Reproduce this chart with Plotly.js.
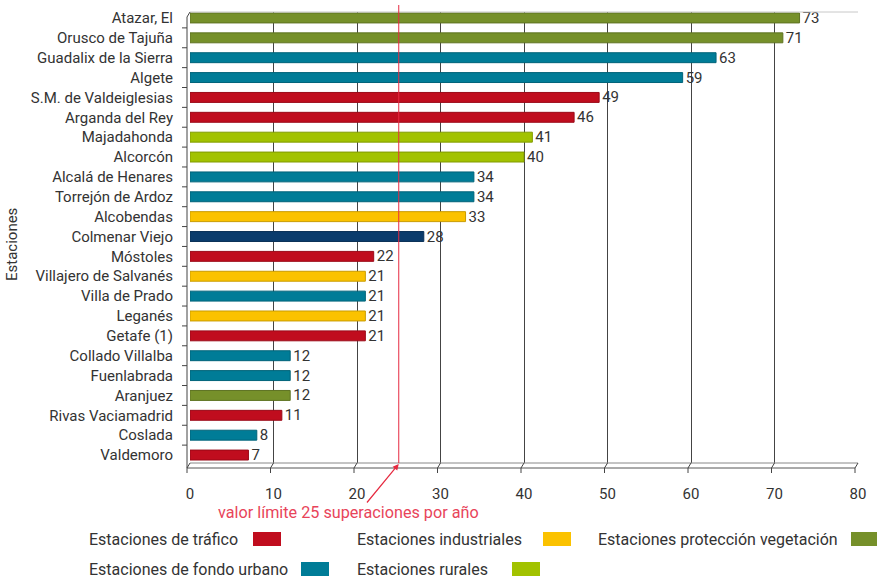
<!DOCTYPE html>
<html><head><meta charset="utf-8">
<script src="https://cdn.plot.ly/plotly-3.0.1.min.js"></script>
<style>html,body{margin:0;padding:0;background:#fff}</style>
</head><body><div id="chart" style="width:877px;height:580px"></div>
<script>
// ---- data ----
const stations = ["Atazar, El", "Orusco de Tajuña", "Guadalix de la Sierra", "Algete",
  "S.M. de Valdeiglesias", "Arganda del Rey", "Majadahonda", "Alcorcón",
  "Alcalá de Henares", "Torrejón de Ardoz", "Alcobendas", "Colmenar Viejo",
  "Móstoles", "Villajero de Salvanés", "Villa de Prado", "Leganés", "Getafe (1)",
  "Collado Villalba", "Fuenlabrada", "Aranjuez", "Rivas Vaciamadrid", "Coslada", "Valdemoro"];
const values = [73, 71, 63, 59, 49, 46, 41, 40, 34, 34, 33, 28, 22, 21, 21, 21, 21, 12, 12, 12, 11, 8, 7];
const stationTypes = ["veg", "veg", "urb", "urb", "traf", "traf", "rur", "rur", "urb", "urb", "ind", "otro",
  "traf", "ind", "urb", "ind", "traf", "urb", "urb", "veg", "traf", "urb", "traf"];
const typeKeys = ["traf", "ind", "veg", "urb", "rur"];
const typeLabels = ["Estaciones de tráfico", "Estaciones industriales", "Estaciones protección vegetación",
  "Estaciones de fondo urbano", "Estaciones rurales"];
const typeColors = {traf: "#c00d1e", ind: "#fbc200", veg: "#76902a", urb: "#007c97", rur: "#a2c200", otro: "#0b3c6c"};
const limitValue = 25;
const limitText = "valor límite 25 superaciones por año";
const xTicks = [0, 10, 20, 30, 40, 50, 60, 70, 80];

// ---- layout helpers (pixel -> paper) ----
const L = 190, R = 858, T = 12, B = 463;
const px = p => (p - L) / (R - L);
const py = p => (B - p) / (B - T);
const dx = 3 / (R - L), dy = 5 / (B - T);
const FONT = "Roboto, sans-serif";

const darker = c => {
  const n = parseInt(c.slice(1), 16);
  const f = v => Math.max(0, Math.round(v * 0.8));
  return "rgb(" + f(n >> 16) + "," + f((n >> 8) & 255) + "," + f(n & 255) + ")";
};

const colors = stationTypes.map(t => typeColors[t]);
const trace = {
  type: "bar", orientation: "h",
  y: stations, x: values,
  width: 0.5,
  marker: {color: colors, line: {color: colors.map(darker), width: 1}},
  text: values.map(String), textposition: "outside", cliponaxis: false, constraintext: "none",
  textfont: {family: FONT, size: 15, color: "#333"},
  hoverinfo: "x+y"
};

const shapes = [];
const annotations = [];
// floor / 3D frame
shapes.push({type: "line", xref: "paper", yref: "paper", x0: 0, x1: 1, y0: 1, y1: 1, line: {color: "#c8c8c8", width: 1}});
shapes.push({type: "line", xref: "paper", yref: "paper", x0: 0, x1: 1, y0: 0, y1: 0, line: {color: "#888", width: 1}});
shapes.push({type: "line", xref: "paper", yref: "paper", x0: -dx, x1: 1 - dx, y0: -dy, y1: -dy, line: {color: "#555", width: 1}});
shapes.push({type: "line", xref: "paper", yref: "paper", x0: -dx, x1: -dx, y0: -dy, y1: 1 - dy, line: {color: "#444", width: 1}});
shapes.push({type: "line", xref: "paper", yref: "paper", x0: -dx, x1: 0, y0: 1 - dy, y1: 1, line: {color: "#444", width: 1}});
xTicks.forEach(v => {
  const xp = v / 80;
  shapes.push({type: "line", xref: "paper", yref: "paper", x0: xp, x1: xp - dx, y0: 0, y1: -dy, line: {color: "#444", width: 1}});
  shapes.push({type: "line", xref: "paper", yref: "paper", x0: xp - dx, x1: xp - dx, y0: -dy, y1: -dy - 5 / (B - T), line: {color: "#444", width: 1}});
});
// y boundary ticks
for (let i = 0; i <= stations.length; i++) {
  const yp = py(T + (i + 0.3) * (B - T) / 22.7 + 5 * (1 - 0));
  shapes.push({type: "line", xref: "paper", yref: "y", x0: -dx - 5 / (R - L), x1: -dx, y0: i - 0.5, y1: i - 0.5,
    line: {color: "#444", width: 1}});
}
// limit line
shapes.push({type: "line", xref: "x", yref: "paper", x0: limitValue, x1: limitValue, y0: 0, y1: py(5), line: {color: "#e62a40", width: 1}});
annotations.push({xref: "x", yref: "paper", x: limitValue, y: py(464), text: "", showarrow: true,
  arrowhead: 2, arrowsize: 1, arrowwidth: 1.2, arrowcolor: "#e62a40", ax: -33, ay: 40});
annotations.push({xref: "paper", yref: "paper", x: px(348), y: py(512), xanchor: "center", yanchor: "middle",
  text: limitText, showarrow: false, font: {family: FONT, size: 16.2, color: "#e8445a"}});
// y title
annotations.push({xref: "paper", yref: "paper", x: px(12), y: py(245), xanchor: "center", yanchor: "middle",
  text: "Estaciones", textangle: -90, showarrow: false, font: {family: FONT, size: 15, color: "#333"}});
// custom legend (text then swatch)
const legPos = [
  {tx: 87, sx: 253, y: 539}, {tx: 355, sx: 543, y: 539}, {tx: 596, sx: 851, y: 539},
  {tx: 87, sx: 301, y: 569}, {tx: 355, sx: 512, y: 569}
];
typeKeys.forEach((k, i) => {
  const p = legPos[i];
  annotations.push({xref: "paper", yref: "paper", x: px(p.tx), y: py(p.y), xanchor: "left", yanchor: "middle",
    text: typeLabels[i], showarrow: false, font: {family: FONT, size: 16, color: "#333"}});
  shapes.push({type: "rect", xref: "paper", yref: "paper", x0: px(p.sx), x1: px(p.sx + 28),
    y0: py(p.y + 7), y1: py(p.y - 7), fillcolor: typeColors[k], line: {width: 0}});
});

const layout = {
  width: 877, height: 580,
  margin: {l: L, r: 877 - R, t: T, b: 580 - B, pad: 0},
  paper_bgcolor: "#fff", plot_bgcolor: "#fff",
  showlegend: false,
  font: {family: FONT, color: "#333"},
  xaxis: {range: [0, 80], tickvals: xTicks, showgrid: true, gridcolor: "#444", gridwidth: 1,
    zeroline: false, showline: false, ticks: "", ticklabelstandoff: 20,
    tickfont: {family: FONT, size: 15, color: "#333"}, fixedrange: true},
  yaxis: {type: "category", autorange: false, range: [22.4, -0.3], showgrid: false, zeroline: false,
    showline: false, ticks: "", ticklabelstandoff: 16,
    tickfont: {family: FONT, size: 15, color: "#333"}, fixedrange: true},
  bargap: 0.5,
  shapes: shapes,
  annotations: annotations
};

Plotly.newPlot("chart", [trace], layout, {displayModeBar: false, staticPlot: true});
</script>
</body></html>
